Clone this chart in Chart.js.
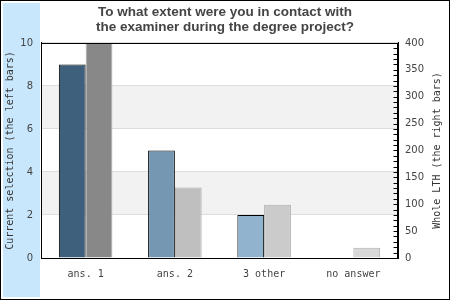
<!DOCTYPE html>
<html>
<head>
<meta charset="utf-8">
<script src="https://cdn.jsdelivr.net/npm/chart.js@4/dist/chart.umd.min.js"></script>
<style>
  html, body { margin: 0; padding: 0; background: #fff; }
  #wrap { width: 450px; height: 300px; position: relative; }
</style>
</head>
<body>
<div id="wrap"><canvas id="c" width="450" height="300"></canvas></div>
<script>
const categories = ['ans. 1', 'ans. 2', '3 other', 'no answer'];
const currentSelection = [9, 5, 2, 0];
const wholeLTH = [400, 131, 99, 19];
const leftTicks = [0, 2, 4, 6, 8, 10];
const rightTickLabels = [0, 50, 100, 150, 200, 250, 300, 350, 400];
const chartTitle = ['To what extent were you in contact with', 'the examiner during the degree project?'];
const leftAxisTitle = 'Current selection (the left bars)';
const rightAxisTitle = 'Whole LTH (the right bars)';

const leftColors = ['#3f607d', '#7597b2', '#92b3cd', '#a9c5dc'];
const rightColors = ['#888888', '#bfbfbf', '#cbcbcb', '#d8d8d8'];

const decor = {
  id: 'decor',
  beforeDraw(chart) {
    const ctx = chart.ctx, a = chart.chartArea, y = chart.scales.y;
    ctx.save();
    ctx.fillStyle = '#ffffff';
    ctx.fillRect(0, 0, 450, 300);
    ctx.fillStyle = '#c9e7fc';
    ctx.fillRect(3, 3, 37, 294);
    ctx.strokeStyle = '#000';
    ctx.lineWidth = 1;
    ctx.strokeRect(0.5, 0.5, 449, 299);
    ctx.fillStyle = '#f2f2f2';
    [[2, 4], [6, 8]].forEach(([lo, hi]) => {
      const y1 = y.getPixelForValue(hi), y2 = y.getPixelForValue(lo);
      ctx.fillRect(a.left, y1, a.right - a.left, y2 - y1);
    });
    ctx.restore();
  },
  afterDatasetsDraw(chart) {
    const ctx = chart.ctx, a = chart.chartArea, r = chart.scales.y1;
    ctx.save();
    ctx.strokeStyle = '#000';
    ctx.lineWidth = 1;
    ctx.strokeRect(Math.round(a.left) + 0.5, Math.round(a.top) + 0.5,
      Math.round(a.right) - Math.round(a.left) - 1, Math.round(a.bottom) - Math.round(a.top));
    const xr = Math.round(a.right) - 0.5;
    ctx.beginPath();
    r.ticks.forEach(t => {
      const py = Math.round(r.getPixelForValue(t.value)) + 0.5;
      ctx.moveTo(xr - 4, py);
      ctx.lineTo(xr, py);
    });
    ctx.stroke();
    // right axis title, reading bottom-to-top
    ctx.translate(r.right - 13, (a.top + a.bottom) / 2);
    ctx.rotate(-Math.PI / 2);
    ctx.fillStyle = '#333';
    ctx.font = '10px "DejaVu Sans Mono"';
    ctx.textAlign = 'center';
    ctx.textBaseline = 'middle';
    ctx.fillText(rightAxisTitle, 0, 0);
    ctx.restore();
  }
};

new Chart(document.getElementById('c'), {
  type: 'bar',
  data: {
    labels: categories,
    datasets: [
      {
        label: leftAxisTitle,
        data: currentSelection,
        yAxisID: 'y',
        backgroundColor: leftColors,
        borderColor: '#000',
        borderWidth: currentSelection.map(v => v === 0 ? 0 : 1),
        categoryPercentage: 0.6,
        barPercentage: 1.0
      },
      {
        label: rightAxisTitle,
        data: wholeLTH,
        yAxisID: 'y1',
        backgroundColor: rightColors,
        borderColor: '#adadad',
        borderWidth: 1,
        categoryPercentage: 0.6,
        barPercentage: 1.0
      }
    ]
  },
  options: {
    responsive: false,
    animation: false,
    layout: { padding: 0 },
    plugins: {
      legend: { display: false },
      tooltip: { enabled: false },
      title: {
        display: true,
        text: chartTitle,
        color: '#444',
        font: { family: 'Liberation Sans', size: 13.5, weight: 'bold', lineHeight: 1.11 },
        padding: { top: 5, bottom: 8 }
      }
    },
    scales: {
      x: {
        grid: { display: false, drawTicks: false },
        border: { display: true, color: '#000' },
        ticks: { color: '#444', font: { family: 'DejaVu Sans Mono', size: 10 }, padding: 10 },
        afterFit(s) { s.height = 42; }
      },
      y: {
        position: 'left',
        min: 0, max: 10,
        afterBuildTicks(s) { s.ticks = leftTicks.map(v => ({ value: v })); },
        ticks: { color: '#444', font: { family: 'DejaVu Sans', size: 10 }, padding: 8 },
        grid: { color: '#dddddd', drawTicks: false },
        border: { display: true, color: '#000' },
        title: {
          display: true, text: leftAxisTitle, color: '#333',
          font: { family: 'DejaVu Sans Mono', size: 10 }, padding: { top: 4, bottom: 0 }
        },
        afterFit(s) { s.width = 41; }
      },
      y1: {
        position: 'right',
        min: 0, max: 400,
        ticks: {
          stepSize: 10, autoSkip: false, color: '#444',
          font: { family: 'DejaVu Sans', size: 10 }, padding: 7,
          callback: v => rightTickLabels.includes(v) ? String(v) : ''
        },
        grid: { drawOnChartArea: false, drawTicks: false },
        border: { display: true, color: '#000' },
        title: { display: false },
        afterFit(s) { s.width = 52; }
      }
    }
  },
  plugins: [decor]
});
</script>
</body>
</html>
